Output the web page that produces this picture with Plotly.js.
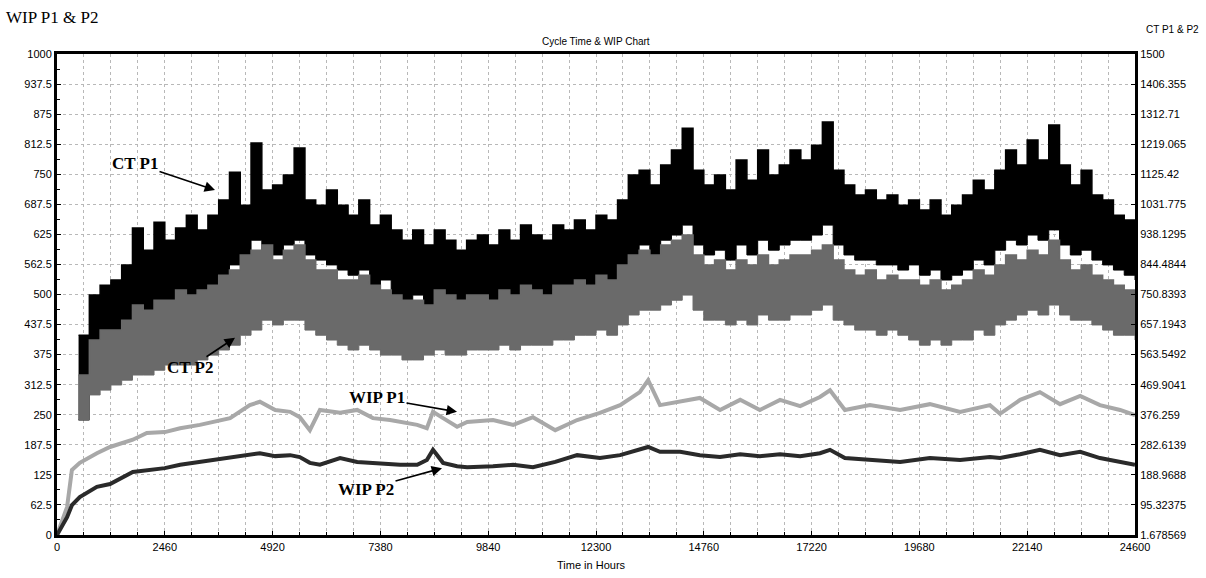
<!DOCTYPE html>
<html>
<head>
<meta charset="utf-8">
<script src="https://cdn.plot.ly/plotly-3.0.1.min.js"></script>
<style>html,body{margin:0;padding:0;background:#fff;}#chart{width:1206px;height:578px;}</style>
</head>
<body>
<div id="chart"></div>
<script>
// ---- Data ----
// Cycle-time series (right axis), sampled every 246 h starting at 492 h: band upper / lower edges
const ctStartHour = 492;
const ctStepHours = 246;
const ctP1High = [624,749,780,796,843,958,889,976,920,958,998,952,998,1045,1132,1029,1223,1076,1092,1123,1207,1045,1029,1076,1029,998,1045,967,998,952,920,952,905,952,920,889,920,936,905,952,920,967,936,920,967,952,983,952,998,983,1045,1123,1138,1092,1154,1201,1269,1138,1092,1123,1076,1170,1107,1201,1123,1154,1201,1170,1216,1288,1138,1092,1061,1076,1045,1061,1029,1045,1014,1045,998,1029,1061,1107,1076,1138,1201,1154,1232,1170,1279,1154,1092,1138,1061,1045,998,983,952];
const ctP1Low = [360,547,593,609,640,702,687,733,718,749,733,733,765,796,843,858,920,889,874,905,920,874,858,843,827,811,827,780,796,749,733,749,718,765,733,702,733,733,718,749,733,765,749,733,765,765,780,765,796,780,827,874,905,874,920,936,967,905,874,889,858,905,874,920,889,905,920,920,936,967,905,874,858,858,843,843,827,843,811,827,796,811,827,858,843,889,920,905,936,920,952,905,874,889,858,843,827,811,796];
const ctP2High = [500,609,640,640,671,718,702,733,733,765,749,765,780,811,827,874,889,905,858,889,905,858,827,827,796,796,811,780,765,749,733,733,718,765,749,733,749,749,733,765,749,780,765,749,780,780,796,780,811,796,843,874,889,874,905,920,936,874,843,858,827,858,843,874,843,858,874,874,889,905,858,827,811,827,796,811,796,796,780,796,765,780,796,827,811,843,874,858,889,874,920,858,827,843,811,796,780,765,749];
const ctP2Low = [360,438,453,469,484,500,500,515,531,531,531,547,562,578,593,624,640,671,656,671,671,640,624,609,593,578,593,578,562,562,547,547,562,578,562,562,578,578,578,593,578,593,593,593,609,609,624,624,640,624,656,687,702,702,718,733,749,702,671,671,656,671,656,687,671,671,687,687,702,718,671,656,640,640,624,640,624,609,593,609,593,609,609,640,624,656,671,687,702,687,718,687,671,671,656,640,624,624,609];

// Work-in-process series (left axis)
const wipHours = [0,230,340,520,910,1210,1730,2050,2460,2810,3260,3690,3950,4400,4630,4980,5320,5540,5770,6000,6460,6850,7210,7600,7830,8220,8440,8580,8810,9130,9360,9950,10410,10860,11370,11870,12390,12850,13300,13490,13760,14220,14670,15130,15590,16040,16500,16960,17410,17640,17980,18550,19240,19920,20610,21290,21520,21980,22430,22890,23350,23800,24260,24600];
const wipP1 = [0,58,135,150,170,183,198,212,214,222,229,239,243,270,277,260,256,245,218,260,254,260,243,239,235,229,222,256,243,225,235,239,229,245,218,239,254,270,297,322,270,277,285,260,281,260,281,268,287,301,260,270,260,272,256,270,252,281,297,272,289,270,260,249];
const wipP2 = [0,37,62,79,100,106,131,135,139,146,152,156,160,166,170,164,166,162,150,146,160,152,150,146,146,146,156,177,150,143,141,143,146,141,152,166,160,166,177,183,173,173,166,162,168,164,168,164,170,177,160,156,152,160,156,162,160,168,177,166,173,160,152,146];

// Axis ticks / labels
const xTicks = [0,2460,4920,7380,9840,12300,14760,17220,19680,22140,24600];
const leftTicks = [0,62.5,125,187.5,250,312.5,375,437.5,500,562.5,625,687.5,750,812.5,875,937.5,1000];
const rightTicks = [1.678569,95.32375,188.9688,282.6139,376.259,469.9041,563.5492,657.1943,750.8393,844.4844,938.1295,1031.775,1125.42,1219.065,1312.71,1406.355,1500];
const rightTickText = ["1.678569","95.32375","188.9688","282.6139","376.259","469.9041","563.5492","657.1943","750.8393","844.4844","938.1295","1031.775","1125.42","1219.065","1312.71","1406.355","1500"];

// Text
const chartTitle = "Cycle Time & WIP Chart";
const leftTitle = "WIP P1 & P2";
const rightTitle = "CT P1 & P2";
const xTitle = "Time in Hours";

// ---- Traces ----
const tickFont = {family: "Liberation Sans, Arial, sans-serif", size: 11, color: "#000"};
const traces = [
  {x0: ctStartHour, dx: ctStepHours, y: ctP1Low, yaxis: "y2", type: "scatter", mode: "lines",
   line: {color: "#000", width: 1, shape: "hv"}, name: "CT P1 low", showlegend: false, hoverinfo: "skip"},
  {x0: ctStartHour, dx: ctStepHours, y: ctP1High, yaxis: "y2", type: "scatter", mode: "lines",
   line: {color: "#000", width: 1.5, shape: "hv"}, fill: "tonexty", fillcolor: "#000", name: "CT P1", showlegend: false},
  {x0: ctStartHour, dx: ctStepHours, y: ctP2Low, yaxis: "y2", type: "scatter", mode: "lines",
   line: {color: "#6a6a6a", width: 1, shape: "hv"}, name: "CT P2 low", showlegend: false, hoverinfo: "skip"},
  {x0: ctStartHour, dx: ctStepHours, y: ctP2High, yaxis: "y2", type: "scatter", mode: "lines",
   line: {color: "#6a6a6a", width: 1.5, shape: "hv"}, fill: "tonexty", fillcolor: "#6a6a6a", name: "CT P2", showlegend: false},
  {x: wipHours, y: wipP1, yaxis: "y", type: "scatter", mode: "lines",
   line: {color: "#a8a8a8", width: 4}, name: "WIP P1", showlegend: false},
  {x: wipHours, y: wipP2, yaxis: "y", type: "scatter", mode: "lines",
   line: {color: "#2a2a2a", width: 4}, name: "WIP P2", showlegend: false}
];

const gridCol = "#b8b8b8";
const layout = {
  width: 1206, height: 578,
  margin: {l: 57, r: 71, t: 54, b: 43, pad: 0},
  paper_bgcolor: "#fff", plot_bgcolor: "#fff",
  showlegend: false,
  xaxis: {
    range: [0, 24600], tickvals: xTicks, ticktext: xTicks.map(String),
    showline: true, linecolor: "#000", linewidth: 3, mirror: true,
    showgrid: true, gridcolor: gridCol, griddash: "dot", gridwidth: 1,
    ticks: "inside", ticklen: 4, tickcolor: "#000",
    minor: {dtick: 615, tick0: 0, showgrid: true, gridcolor: gridCol, griddash: "dot", ticks: "inside", ticklen: 3, tickcolor: "#000"},
    tickfont: tickFont, zeroline: false, fixedrange: true
  },
  yaxis: {
    range: [0, 1000], tickvals: leftTicks, ticktext: leftTicks.map(String),
    showline: true, linecolor: "#000", linewidth: 3, mirror: false,
    showgrid: true, gridcolor: gridCol, griddash: "dot", gridwidth: 1,
    ticks: "inside", ticklen: 4, tickcolor: "#000",
    minor: {dtick: 31.25, tick0: 0, ticks: "inside", ticklen: 3, tickcolor: "#000", showgrid: false},
    tickfont: tickFont, zeroline: false, fixedrange: true
  },
  yaxis2: {
    range: [1.678569, 1500], overlaying: "y", side: "right",
    tickvals: rightTicks, ticktext: rightTickText,
    showline: true, linecolor: "#000", linewidth: 3,
    showgrid: false, ticks: "inside", ticklen: 4, tickcolor: "#000",
    tickfont: tickFont, zeroline: false, fixedrange: true
  },
  annotations: [
    {text: chartTitle, xref: "paper", yref: "paper", x: 0.5, y: 1.027, xanchor: "center", yanchor: "middle",
     showarrow: false, font: {family: "Liberation Sans, Arial, sans-serif", size: 10, color: "#000"}},
    {text: leftTitle, xref: "paper", yref: "paper", x: -0.049, y: 1.076, xanchor: "left", yanchor: "middle",
     showarrow: false, font: {family: "Liberation Serif, Times New Roman, serif", size: 17, color: "#000"}},
    {text: rightTitle, xref: "paper", yref: "paper", x: 1.061, y: 1.05, xanchor: "right", yanchor: "middle",
     showarrow: false, font: {family: "Liberation Sans, Arial, sans-serif", size: 10, color: "#000"}},
    {text: xTitle, xref: "paper", yref: "paper", x: 0.496, y: -0.063, xanchor: "center", yanchor: "middle",
     showarrow: false, font: {family: "Liberation Sans, Arial, sans-serif", size: 11, color: "#000"}},
    {text: "<b>CT P1</b>", xref: "x", yref: "y", x: 3606, y: 717, ax: -80, ay: -27,
     showarrow: true, arrowhead: 2, arrowsize: 1.3, arrowwidth: 1.6, arrowcolor: "#000",
     font: {family: "Liberation Serif, Times New Roman, serif", size: 17, color: "#000"}},
    {text: "<b>CT P2</b>", xref: "x", yref: "y", x: 4062, y: 410, ax: -45, ay: 30,
     showarrow: true, arrowhead: 2, arrowsize: 1.3, arrowwidth: 1.6, arrowcolor: "#000",
     font: {family: "Liberation Serif, Times New Roman, serif", size: 17, color: "#000"}},
    {text: "<b>WIP P1</b>", xref: "x", yref: "y", x: 9128, y: 256, ax: -80, ay: -14,
     showarrow: true, arrowhead: 2, arrowsize: 1.3, arrowwidth: 1.6, arrowcolor: "#000",
     font: {family: "Liberation Serif, Times New Roman, serif", size: 17, color: "#000"}},
    {text: "<b>WIP P2</b>", xref: "x", yref: "y", x: 8786, y: 139, ax: -76, ay: 21,
     showarrow: true, arrowhead: 2, arrowsize: 1.3, arrowwidth: 1.6, arrowcolor: "#000",
     font: {family: "Liberation Serif, Times New Roman, serif", size: 17, color: "#000"}}
  ]
};

Plotly.newPlot("chart", traces, layout, {staticPlot: true, displayModeBar: false});
</script>
</body>
</html>
